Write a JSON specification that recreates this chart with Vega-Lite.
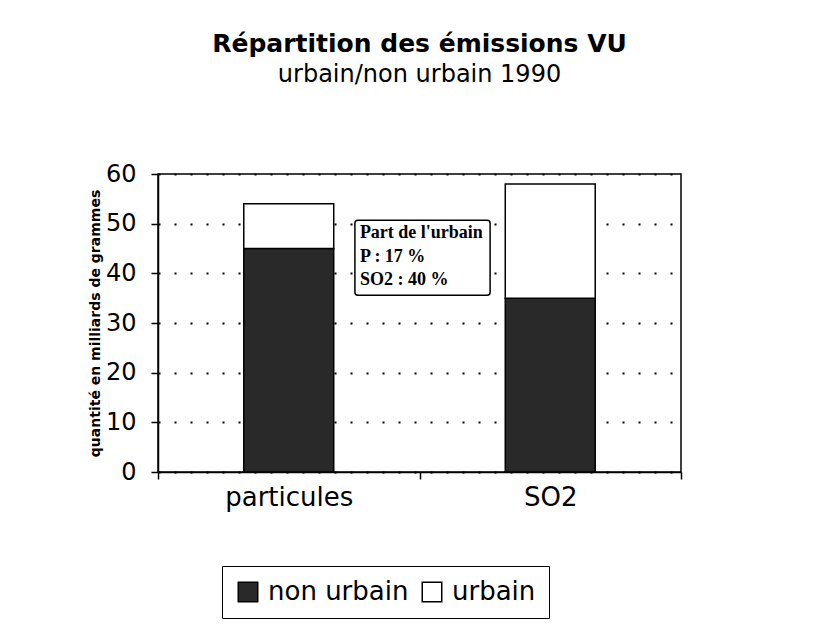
{
  "$schema": "https://vega.github.io/schema/vega-lite/v6.json",
  "width": 523,
  "height": 298,
  "autosize": {"type": "none"},
  "padding": {"left": 158, "top": 174, "right": 153, "bottom": 154},
  "background": "white",
  "config": {
    "font": "DejaVu Sans",
    "view": {"stroke": "black", "strokeWidth": 1.5},
    "axis": {"domainColor": "black", "tickColor": "black", "labelColor": "black", "titleColor": "black", "domainWidth": 1.5, "tickWidth": 1.5}
  },
  "title": {
    "text": "Répartition des émissions VU",
    "subtitle": "urbain/non urbain 1990",
    "fontSize": 25,
    "fontWeight": "bold",
    "subtitleFontSize": 24,
    "subtitleColor": "black",
    "color": "black",
    "anchor": "middle",
    "offset": 75,
    "subtitlePadding": 6
  },
  "datasets": {
    "bars": [
      {"polluant": "particules", "zone": "non urbain", "ordre": 1, "valeur": 45},
      {"polluant": "particules", "zone": "urbain", "ordre": 2, "valeur": 9},
      {"polluant": "SO2", "zone": "non urbain", "ordre": 1, "valeur": 35},
      {"polluant": "SO2", "zone": "urbain", "ordre": 2, "valeur": 23}
    ],
    "boite": [
      {"x1": 0.753, "x2": 1.27, "y1": 35.6, "y2": 50.7}
    ],
    "notes": [
      {"x": 0.772, "y": 48.1, "texte": "Part de l'urbain"},
      {"x": 0.772, "y": 43.3, "texte": "P : 17 %"},
      {"x": 0.772, "y": 38.6, "texte": "SO2 : 40 %"}
    ]
  },
  "layer": [
    {
      "data": {"name": "bars"},
      "mark": {"type": "bar", "width": {"band": 0.344}, "stroke": "black", "strokeWidth": 1.5},
      "encoding": {
        "x": {
          "field": "polluant",
          "type": "nominal",
          "sort": ["particules", "SO2"],
          "scale": {"paddingInner": 0, "paddingOuter": 0},
          "axis": {
            "title": null,
            "labelAngle": 0,
            "labelFontSize": 26,
            "tickBand": "extent",
            "tickSize": 7,
            "labelPadding": 5,
            "grid": false
          }
        },
        "y": {
          "field": "valeur",
          "type": "quantitative",
          "stack": "zero",
          "scale": {"domain": [0, 60], "nice": false},
          "axis": {
            "title": "quantité en milliards de grammes",
            "titleFontSize": 14,
            "titleFontWeight": "bold",
            "titlePadding": 3,
            "values": [0, 10, 20, 30, 40, 50, 60],
            "labelFontSize": 24,
            "labelPadding": 15,
            "tickSize": 7,
            "grid": true,
            "gridColor": "black",
            "gridDash": [2, 14],
            "gridWidth": 2
          }
        },
        "color": {
          "field": "zone",
          "type": "nominal",
          "scale": {"domain": ["non urbain", "urbain"], "range": ["#292929", "#ffffff"]},
          "legend": {
            "title": null,
            "orient": "none",
            "legendX": 64,
            "legendY": 392,
            "direction": "horizontal",
            "strokeColor": "black",
            "padding": 13,
            "symbolType": "square",
            "symbolSize": 380,
            "symbolStrokeColor": "black",
            "symbolStrokeWidth": 1.5,
            "symbolOpacity": 1,
            "labelFontSize": 26,
            "labelColor": "black",
            "labelOffset": 7,
            "columnPadding": 10
          }
        },
        "order": {"field": "ordre", "type": "quantitative"}
      }
    },
    {
      "data": {"name": "boite"},
      "mark": {"type": "rect", "fill": "white", "stroke": "black", "strokeWidth": 1.5, "cornerRadius": 3},
      "encoding": {
        "x": {"field": "x1", "type": "quantitative", "scale": {"domain": [0, 2], "nice": false}, "axis": null},
        "x2": {"field": "x2"},
        "y": {"field": "y1", "type": "quantitative"},
        "y2": {"field": "y2"}
      }
    },
    {
      "data": {"name": "notes"},
      "mark": {"type": "text", "align": "left", "baseline": "middle", "font": "Liberation Serif", "fontSize": 18, "fontWeight": "bold", "color": "black"},
      "encoding": {
        "x": {"field": "x", "type": "quantitative", "scale": {"domain": [0, 2], "nice": false}, "axis": null},
        "y": {"field": "y", "type": "quantitative"},
        "text": {"field": "texte"}
      }
    }
  ],
  "resolve": {"scale": {"x": "independent"}, "axis": {"x": "independent"}}
}
